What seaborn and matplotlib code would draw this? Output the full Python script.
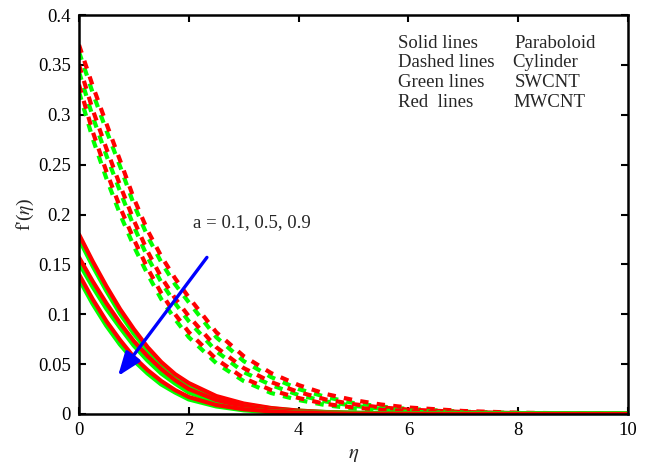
import matplotlib
matplotlib.use("Agg")
import matplotlib.pyplot as plt
import seaborn as sns

eta = [0, 0.25, 0.5, 0.75, 1.0, 1.25, 1.5, 1.75, 2.0, 2.5, 3.0, 3.5, 4.0, 4.5,
       5.0, 5.5, 6.0, 7.0, 8.0, 9.0, 10.0]

# Cylinder (dashed) - MWCNT (red) and SWCNT (green), a = 0.1, 0.5, 0.9
cyl_mw_1 = [0.370, 0.329, 0.291, 0.254, 0.216, 0.184, 0.158, 0.136, 0.117, 0.082, 0.058,
            0.041, 0.029, 0.020, 0.014, 0.0095, 0.0065, 0.003, 0.0013, 0.0006, 0.0002]
cyl_sw_1 = [0.363, 0.322, 0.284, 0.248, 0.210, 0.178, 0.152, 0.130, 0.112, 0.077, 0.053,
            0.037, 0.025, 0.017, 0.011, 0.0075, 0.005, 0.0023, 0.001, 0.0004, 0.0001]
cyl_mw_2 = [0.350, 0.305, 0.266, 0.229, 0.194, 0.163, 0.137, 0.116, 0.098, 0.067, 0.046,
            0.032, 0.022, 0.0145, 0.0098, 0.0066, 0.0044, 0.002, 0.0009, 0.0004, 0.0001]
cyl_sw_2 = [0.343, 0.298, 0.259, 0.223, 0.188, 0.157, 0.132, 0.111, 0.093, 0.063, 0.042,
            0.029, 0.019, 0.0125, 0.0082, 0.0053, 0.0034, 0.0015, 0.0006, 0.0002, 0.0001]
cyl_mw_3 = [0.330, 0.283, 0.243, 0.207, 0.175, 0.146, 0.121, 0.100, 0.082, 0.055, 0.036,
            0.024, 0.016, 0.010, 0.0065, 0.0042, 0.0027, 0.0011, 0.0005, 0.0002, 0.0001]
cyl_sw_3 = [0.323, 0.276, 0.236, 0.200, 0.168, 0.140, 0.115, 0.095, 0.077, 0.051, 0.033,
            0.021, 0.014, 0.0088, 0.0055, 0.0035, 0.0022, 0.0009, 0.0004, 0.0002, 0.0001]

# Paraboloid (solid)
par_mw_1 = [0.180, 0.153, 0.128, 0.105, 0.085, 0.067, 0.052, 0.040, 0.031, 0.018, 0.0105,
            0.006, 0.0034, 0.0019, 0.0011, 0.0006, 0.0003, 0.0001, 0, 0, 0]
par_sw_1 = [0.176, 0.149, 0.124, 0.101, 0.081, 0.064, 0.049, 0.037, 0.028, 0.016, 0.0092,
            0.0052, 0.0029, 0.0016, 0.0009, 0.0005, 0.0003, 0.0001, 0, 0, 0]
par_mw_2 = [0.157, 0.133, 0.111, 0.091, 0.073, 0.058, 0.045, 0.034, 0.025, 0.014, 0.0078,
            0.0043, 0.0024, 0.0013, 0.0007, 0.0004, 0.0002, 0.0001, 0, 0, 0]
par_sw_2 = [0.152, 0.128, 0.106, 0.087, 0.069, 0.054, 0.041, 0.031, 0.022, 0.012, 0.007,
            0.0038, 0.002, 0.0011, 0.0006, 0.0003, 0.0002, 0, 0, 0, 0]
par_mw_3 = [0.140, 0.115, 0.093, 0.074, 0.057, 0.044, 0.033, 0.024, 0.017, 0.009, 0.0048,
            0.0025, 0.0013, 0.0007, 0.0003, 0.0002, 0.0001, 0, 0, 0, 0]
par_sw_3 = [0.136, 0.111, 0.089, 0.070, 0.054, 0.041, 0.030, 0.022, 0.015, 0.008, 0.0041,
            0.0021, 0.0011, 0.0006, 0.0003, 0.0001, 0, 0, 0, 0, 0]

x_ticks = [0, 2, 4, 6, 8, 10]
y_ticks = [0, 0.05, 0.1, 0.15, 0.2, 0.25, 0.3, 0.35, 0.4]
y_tick_labels = ["0", "0.05", "0.1", "0.15", "0.2", "0.25", "0.3", "0.35", "0.4"]

legend_left = ["Solid lines", "Dashed lines", "Green lines", "Red  lines"]
legend_right = ["Paraboloid", "Cylinder", "SWCNT", "MWCNT"]
legend_right_x = [7.93, 7.89, 7.93, 7.91]

sns.set_style("ticks")
plt.rcParams["font.family"] = ["Liberation Serif", "DejaVu Serif"]
plt.rcParams["mathtext.fontset"] = "stix"

fig = plt.figure(figsize=(6.46, 4.65), dpi=100)
ax = fig.add_axes([0.1223, 0.1097, 0.8498, 0.858])

GREEN = "#00ff00"
RED = "#ff0000"
dash = (0, (2.0, 2.0))
lw = 3.0

for sw, mw in [(cyl_sw_1, cyl_mw_1), (cyl_sw_2, cyl_mw_2), (cyl_sw_3, cyl_mw_3)]:
    sns.lineplot(x=eta, y=sw, ax=ax, color=GREEN, lw=lw, linestyle=dash)
    sns.lineplot(x=eta, y=mw, ax=ax, color=RED, lw=lw, linestyle=dash)
for sw, mw in [(par_sw_1, par_mw_1), (par_sw_2, par_mw_2), (par_sw_3, par_mw_3)]:
    sns.lineplot(x=eta, y=sw, ax=ax, color=GREEN, lw=lw + 0.6)
    sns.lineplot(x=eta, y=mw, ax=ax, color=RED, lw=lw)

ax.set_xlim(0, 10)
ax.set_ylim(0, 0.4)
ax.set_xticks(x_ticks)
ax.set_xticklabels([str(t) for t in x_ticks])
ax.set_yticks(y_ticks)
ax.set_yticklabels(y_tick_labels)
ax.tick_params(direction="in", top=True, right=True, length=5, width=1.5,
               labelsize=13.5, colors="black", pad=6)
for s in ax.spines.values():
    s.set_visible(True)
    s.set_linewidth(1.8)
    s.set_color("black")

ax.set_xlabel(r"$\eta$", fontsize=15, labelpad=4)
ax.set_ylabel(r"f'($\eta$)", fontsize=14, labelpad=1)

y0 = 0.3715
dy = 0.0196
for i, (l, r, rx) in enumerate(zip(legend_left, legend_right, legend_right_x)):
    yy = y0 - i * dy
    ax.text(5.81, yy, l, fontsize=13.5, va="center", ha="left")
    ax.text(rx, yy, r, fontsize=13.5, va="center", ha="left")

ax.text(2.08, 0.192, "a = 0.1, 0.5, 0.9", fontsize=13.5, va="center", ha="left")
ax.annotate("", xy=(0.71, 0.038), xytext=(2.33, 0.157),
            arrowprops=dict(arrowstyle="-|>,head_length=1.2,head_width=0.45",
                            color="#0000ff", lw=2.4, mutation_scale=12,
                            shrinkA=0, shrinkB=0))

fig.savefig("out.png", dpi=100)
